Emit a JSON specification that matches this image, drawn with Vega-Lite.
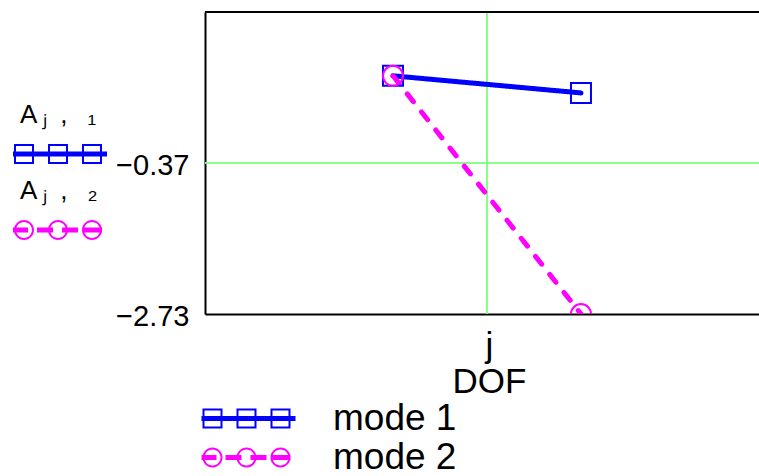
{
  "$schema": "https://vega.github.io/schema/vega-lite/v6.json",
  "width": 554,
  "height": 302,
  "autosize": {"type": "none"},
  "padding": {"left": 205, "top": 12, "right": 0, "bottom": 162},
  "background": "white",
  "config": {"font": "Liberation Sans", "view": {"stroke": null}},
  "data": {"values": [
    {"j": 1, "A": 1, "mode": "mode 1", "series": "A1", "marker": "box"},
    {"j": 2, "A": 0.732, "mode": "mode 1", "series": "A1", "marker": "box"},
    {"j": 1, "A": 1, "mode": "mode 2", "series": "A2", "marker": "ring"},
    {"j": 2, "A": -2.732, "mode": "mode 2", "series": "A2", "marker": "ring"}
  ]},
  "layer": [
    {
      "mark": {"type": "rule", "color": "#80ff80", "strokeWidth": 1},
      "encoding": {"x": {"datum": 1.5, "type": "quantitative"}}
    },
    {
      "mark": {"type": "rule", "color": "#80ff80", "strokeWidth": 1},
      "encoding": {"y": {"datum": -0.366, "type": "quantitative"}}
    },
    {
      "mark": {"type": "rule", "color": "black", "strokeWidth": 2},
      "encoding": {"y": {"datum": 2, "type": "quantitative"}}
    },
    {
      "encoding": {
        "x": {
          "field": "j", "type": "quantitative",
          "scale": {"domain": [0, 2.947], "nice": false, "zero": false},
          "axis": {
            "values": [1.5], "grid": false,
            "labels": false, "ticks": false, "domain": true, "domainColor": "black", "domainWidth": 2,
            "title": ["j", "DOF"], "titleFont": "Liberation Sans", "titleFontSize": 35, "titleFontWeight": "normal",
            "titleColor": "black", "titleX": 284, "titleY": 42, "titleBaseline": "alphabetic",
            "titleAlign": "center", "titleLineHeight": 36
          }
        },
        "y": {
          "field": "A", "type": "quantitative",
          "scale": {"domain": [-2.732, 2], "nice": false, "zero": false},
          "axis": {
            "values": [-2.732, -0.366], "format": ".2f", "grid": false,
            "ticks": false, "labelPadding": 16, "labelFont": "Liberation Sans", "labelFontSize": 29,
            "labelColor": "black", "labelOffset": 2, "domain": true, "domainColor": "black", "domainWidth": 2,
            "title": null
          }
        }
      },
      "layer": [
        {
          "mark": {"type": "line", "strokeWidth": 5, "strokeCap": "round", "clip": true},
          "encoding": {
            "color": {
              "field": "mode", "type": "nominal",
              "scale": {"domain": ["mode 1", "mode 2"], "range": ["#0000ff", "#ff00ff"]},
              "legend": {
                "orient": "none", "legendX": -22, "legendY": 388, "title": null, "symbolSize": 400,
                "labelFont": "Liberation Sans", "labelFontSize": 37, "labelColor": "black", "labelOffset": 113,
                "rowPadding": 1, "labelBaseline": "middle",
                "encoding": {"symbols": {
                  "shape": {"value": {"expr": "datum.value === 'mode 1' ? 'M0,-0.25H9.4V0.25H0Z M0.1,-1H2.1V1H0.1Z M0.3,-0.8V0.8H1.9V-0.8Z M3.5,-1H5.5V1H3.5Z M3.7,-0.8V0.8H5.3V-0.8Z M6.9,-1H8.9V1H6.9Z M7.1,-0.8V0.8H8.7V-0.8Z' : 'M0,-0.25H1.5V0.25H0Z M2.4,-0.25H4V0.25H2.4Z M4.9,-0.25H6.5V0.25H4.9Z M7,-0.25H8.9V0.25H7Z M0.1,0A1,1 0 1,1 2.1,0A1,1 0 1,1 0.1,0Z M0.3,0A0.8,0.8 0 1,0 1.9,0A0.8,0.8 0 1,0 0.3,0Z M3.5,0A1,1 0 1,1 5.5,0A1,1 0 1,1 3.5,0Z M3.7,0A0.8,0.8 0 1,0 5.3,0A0.8,0.8 0 1,0 3.7,0Z M6.9,0A1,1 0 1,1 8.9,0A1,1 0 1,1 6.9,0Z M7.1,0A0.8,0.8 0 1,0 8.7,0A0.8,0.8 0 1,0 7.1,0Z'"}},
                  "fill": {"value": {"expr": "datum.value === 'mode 1' ? '#0000ff' : '#ff00ff'"}},
                  "stroke": {"value": "transparent"},
                  "strokeWidth": {"value": 0},
                  "strokeDash": {"value": [1, 0]},
                  "opacity": {"value": 1},
                  "size": {"value": 400}
                }}
              }
            },
            "strokeDash": {
              "field": "mode", "type": "nominal",
              "scale": {"domain": ["mode 1", "mode 2"], "range": [[1, 0], [10, 13]]},
              "legend": null
            }
          }
        },
        {
          "mark": {"type": "point", "filled": false, "strokeWidth": 2, "opacity": 1, "clip": true},
          "encoding": {
            "color": {
              "field": "mode", "type": "nominal",
              "scale": {"domain": ["mode 1", "mode 2"], "range": ["#0000ff", "#ff00ff"]},
              "legend": null
            },
            "shape": {
              "field": "marker", "type": "nominal",
              "scale": {"domain": ["box", "ring"], "range": ["square", "circle"]},
              "legend": null
            },
            "size": {
              "field": "series", "type": "ordinal",
              "scale": {"domain": ["A1", "A2"], "range": [400, 400]},
              "legend": {
                "orient": "none", "legendX": -205, "legendY": 129, "title": null,
                "labelFont": "Liberation Sans", "labelFontSize": 26, "labelColor": "black", "labelOffset": -6,
                "labelBaseline": "alphabetic", "rowPadding": 14, "labelLimit": 300,
                "labelExpr": "datum.value === 'A1' ? 'A ⱼ\u2002, \u2002₁' : 'A ⱼ\u2002, \u2002₂'",
                "encoding": {
                  "symbols": {
                    "shape": {"value": {"expr": "datum.value === 'A1' ? 'M0,-0.25H9.4V0.25H0Z M0.1,-1H2.1V1H0.1Z M0.3,-0.8V0.8H1.9V-0.8Z M3.5,-1H5.5V1H3.5Z M3.7,-0.8V0.8H5.3V-0.8Z M6.9,-1H8.9V1H6.9Z M7.1,-0.8V0.8H8.7V-0.8Z' : 'M0,-0.25H1.5V0.25H0Z M2.4,-0.25H4V0.25H2.4Z M4.9,-0.25H6.5V0.25H4.9Z M7,-0.25H8.9V0.25H7Z M0.1,0A1,1 0 1,1 2.1,0A1,1 0 1,1 0.1,0Z M0.3,0A0.8,0.8 0 1,0 1.9,0A0.8,0.8 0 1,0 0.3,0Z M3.5,0A1,1 0 1,1 5.5,0A1,1 0 1,1 3.5,0Z M3.7,0A0.8,0.8 0 1,0 5.3,0A0.8,0.8 0 1,0 3.7,0Z M6.9,0A1,1 0 1,1 8.9,0A1,1 0 1,1 6.9,0Z M7.1,0A0.8,0.8 0 1,0 8.7,0A0.8,0.8 0 1,0 7.1,0Z'"}},
                    "fill": {"value": {"expr": "datum.value === 'A1' ? '#0000ff' : '#ff00ff'"}},
                    "stroke": {"value": "transparent"},
                    "strokeWidth": {"value": 0},
                    "opacity": {"value": 1},
                    "size": {"value": 400}
                  },
                  "labels": {"dy": {"value": -31}}
                }
              }
            }
          }
        }
      ]
    }
  ]
}
